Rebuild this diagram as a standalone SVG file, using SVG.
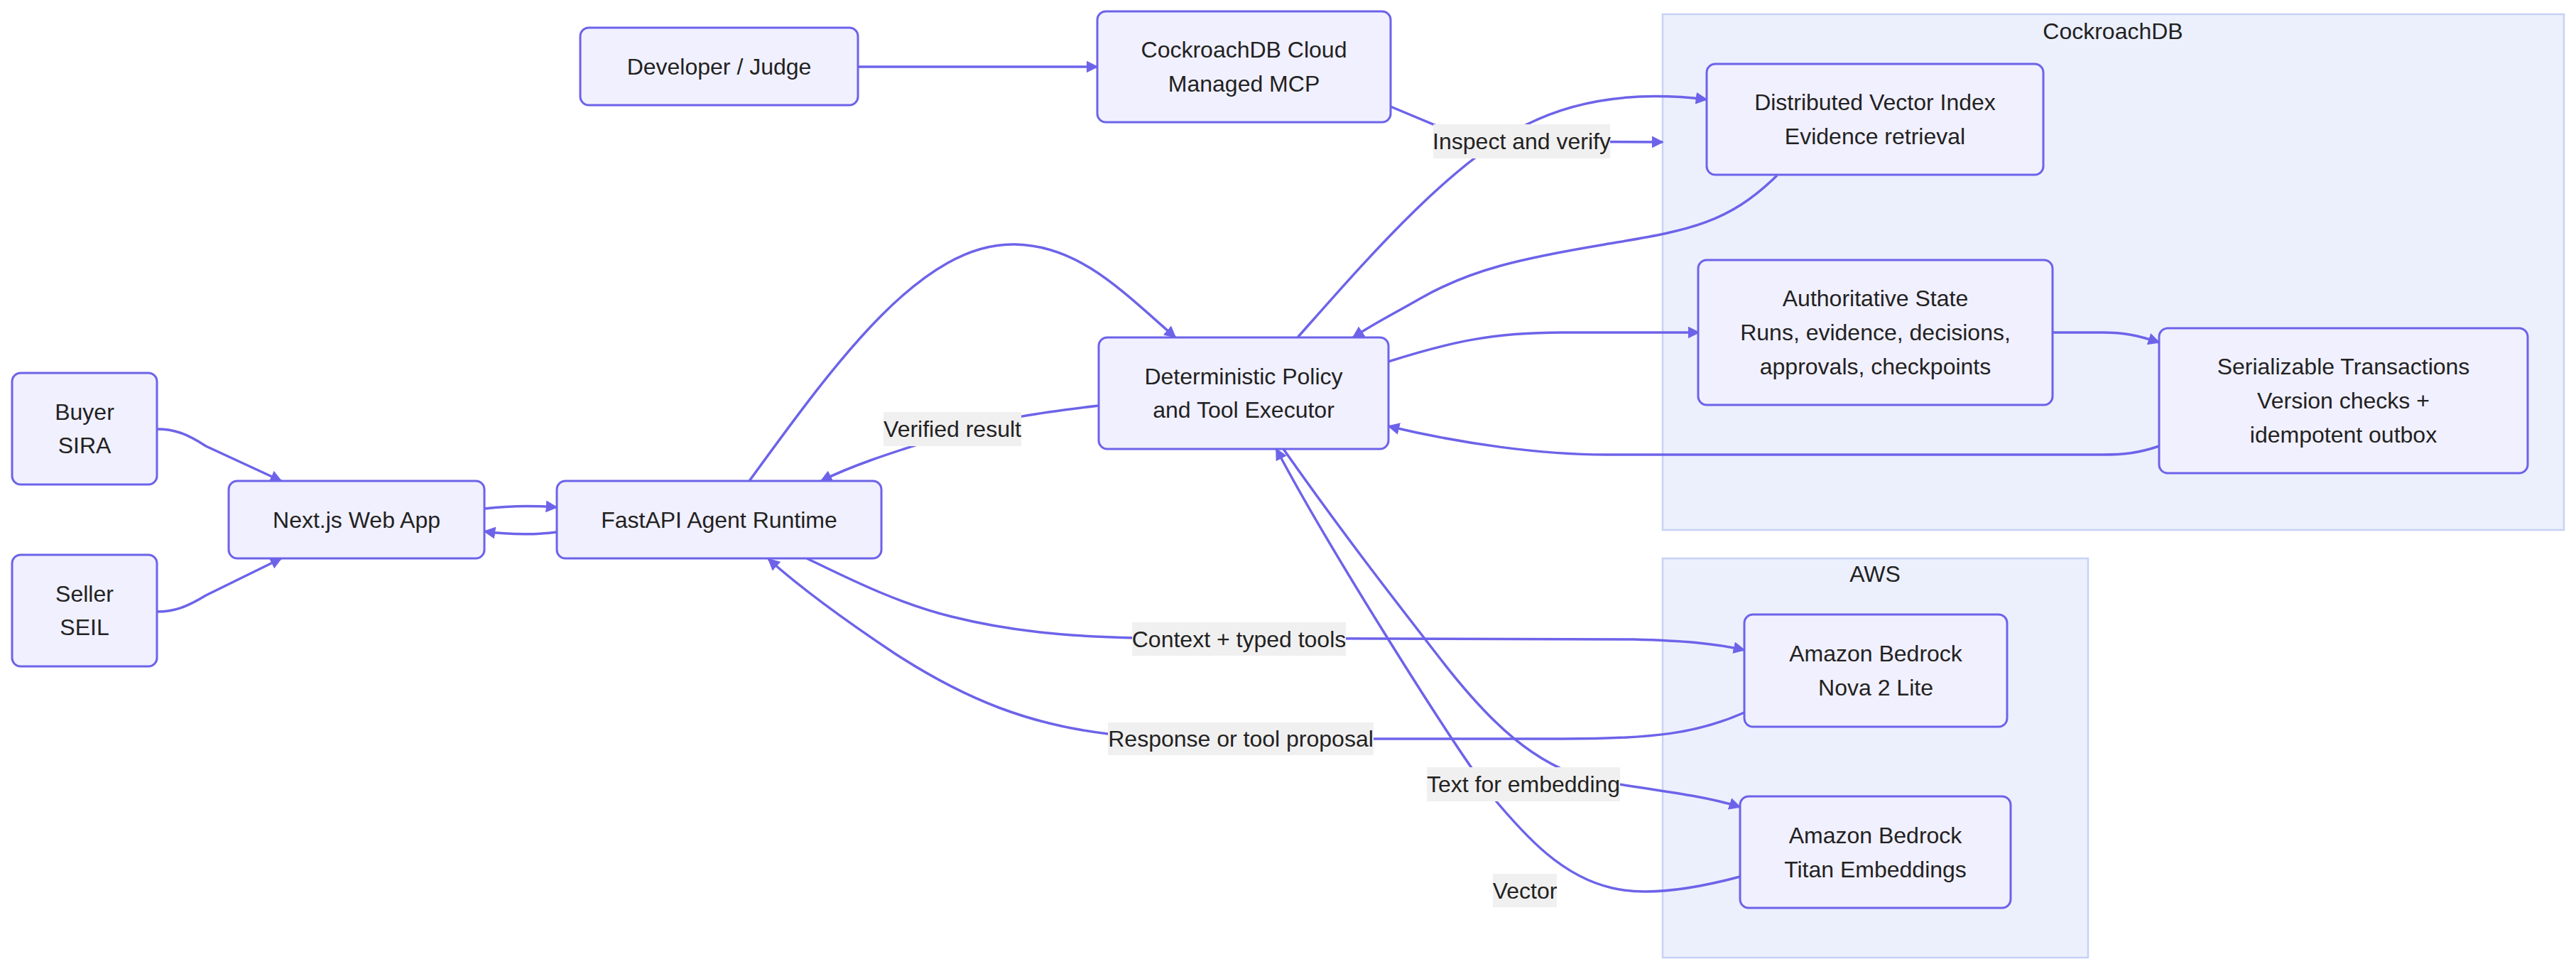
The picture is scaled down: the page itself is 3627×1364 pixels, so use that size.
<svg xmlns="http://www.w3.org/2000/svg" width="3627" height="1364" viewBox="0 0 3627 1364">
<style>
.cl{fill:#ECF0FD;stroke:#C7D2F5;stroke-width:2.5}
.nd rect{fill:#F1F0FF;stroke:#6D63E9;stroke-width:3}
text{font-family:"Liberation Sans",Arial,sans-serif;font-size:32px;fill:#222;text-anchor:middle;dominant-baseline:central}
.ed path{fill:none;stroke:#6D63E9;stroke-width:3.5}
.lb rect{fill:#F1F0F0}
</style>
<defs>
<marker id="ah" viewBox="0 0 10 10" refX="9" refY="5" markerWidth="17" markerHeight="17" markerUnits="userSpaceOnUse" orient="auto">
<path d="M0,0 L10,5 L0,10 z" fill="#6D63E9"/>
</marker>
</defs>
<rect width="3627" height="1364" fill="#fff"/>
<g id="cluster-cockroachdb">
<rect class="cl" x="2341" y="20" width="1269" height="726"/>
<text x="2975" y="44">CockroachDB</text>
</g>
<g id="cluster-aws">
<rect class="cl" x="2341" y="786" width="599" height="562"/>
<text x="2640" y="808">AWS</text>
</g>
<g class="ed" id="connectors">
<path marker-end="url(#ah)" d="M1208,94 L1545,94"/>
<path marker-end="url(#ah)" d="M1958,150 L2030,180 C2070,195 2100,199 2142,199 L2341,200"/>
<path marker-end="url(#ah)" d="M221,604 C245,604 262,610 290,628 L396,677"/>
<path marker-end="url(#ah)" d="M221,861 C245,861 262,855 290,838 L396,786"/>
<path marker-end="url(#ah)" d="M682,716 Q730,710 784,714"/>
<path marker-end="url(#ah)" d="M784,749 Q735,755 682,748"/>
<path marker-end="url(#ah)" d="M1055,677 C1180,505 1300,340 1430,344 C1520,346 1580,410 1655,475"/>
<path marker-end="url(#ah)" d="M1547,571 C1470,580 1400,590 1341,610 C1280,630 1210,650 1156,677"/>
<path marker-end="url(#ah)" d="M1827,475 C1920,370 2040,230 2150,175 C2230,135 2320,130 2403,140"/>
<path marker-end="url(#ah)" d="M2502,247 C2430,318 2370,325 2260,344 C2140,364 2070,380 2000,420 C1960,443 1935,455 1905,475"/>
<path marker-end="url(#ah)" d="M1955,509 C2040,482 2100,468 2200,468 L2392,468"/>
<path marker-end="url(#ah)" d="M2890,468 L2960,468 C2990,468 3010,472 3040,482"/>
<path marker-end="url(#ah)" d="M3040,628 C3010,638 2990,640 2960,640 L2262,640 C2170,640 2060,625 1955,600"/>
<path marker-end="url(#ah)" d="M1136,786 C1190,812 1260,848 1340,868 C1420,888 1500,896 1600,898 L2300,900 C2370,902 2410,905 2456,915"/>
<path marker-end="url(#ah)" d="M2456,1003 C2390,1032 2330,1040 2200,1040 L1700,1040 C1640,1040 1600,1038 1560,1033 C1450,1020 1360,985 1260,920 C1200,880 1130,830 1082,787"/>
<path marker-end="url(#ah)" d="M1807,632 C1890,750 1960,840 2030,930 C2100,1020 2160,1075 2240,1098 C2330,1112 2400,1120 2450,1136"/>
<path marker-end="url(#ah)" d="M2450,1234 C2390,1250 2320,1262 2270,1250 C2200,1234 2150,1180 2100,1120 C2040,1040 1870,770 1797,632"/>
</g>
<g class="lb" id="edge-labels">
<g id="lbl-inspect"><rect x="2018" y="175" width="249" height="48"/><text x="2142.5" y="199">Inspect and verify</text></g>
<g id="lbl-verified"><rect x="1244" y="580" width="194" height="48"/><text x="1341" y="604">Verified result</text></g>
<g id="lbl-context"><rect x="1594" y="876" width="301" height="47"/><text x="1744.5" y="899.5">Context + typed tools</text></g>
<g id="lbl-response"><rect x="1560" y="1017" width="374" height="46"/><text x="1747" y="1040">Response or tool proposal</text></g>
<g id="lbl-text"><rect x="2009" y="1080" width="272" height="48"/><text x="2145" y="1104">Text for embedding</text></g>
<g id="lbl-vector"><rect x="2102" y="1230" width="90" height="47"/><text x="2147" y="1253.5">Vector</text></g>
</g>
<g class="nd" id="developer"><rect x="817" y="39" width="391" height="109" rx="12"/><text x="1012.5" y="94">Developer / Judge</text></g>
<g class="nd" id="mcp"><rect x="1545" y="16" width="413" height="156" rx="12"/><text x="1751.5" y="70">CockroachDB Cloud</text><text x="1751.5" y="118">Managed MCP</text></g>
<g class="nd" id="buyer"><rect x="17" y="525" width="204" height="157" rx="12"/><text x="119" y="580">Buyer</text><text x="119" y="627">SIRA</text></g>
<g class="nd" id="seller"><rect x="17" y="781" width="204" height="157" rx="12"/><text x="119" y="836">Seller</text><text x="119" y="883">SEIL</text></g>
<g class="nd" id="nextjs"><rect x="322" y="677" width="360" height="109" rx="12"/><text x="502" y="731.5">Next.js Web App</text></g>
<g class="nd" id="fastapi"><rect x="784" y="677" width="457" height="109" rx="12"/><text x="1012.5" y="731.5">FastAPI Agent Runtime</text></g>
<g class="nd" id="executor"><rect x="1547" y="475" width="408" height="157" rx="12"/><text x="1751" y="530">Deterministic Policy</text><text x="1751" y="577">and Tool Executor</text></g>
<g class="nd" id="vector-index"><rect x="2403" y="90" width="474" height="156" rx="12"/><text x="2640" y="144">Distributed Vector Index</text><text x="2640" y="192">Evidence retrieval</text></g>
<g class="nd" id="state"><rect x="2391" y="366" width="499" height="204" rx="12"/><text x="2640.5" y="420">Authoritative State</text><text x="2640.5" y="468">Runs, evidence, decisions,</text><text x="2640.5" y="516">approvals, checkpoints</text></g>
<g class="nd" id="serializable"><rect x="3040" y="462" width="519" height="204" rx="12"/><text x="3299.5" y="516">Serializable Transactions</text><text x="3299.5" y="564">Version checks +</text><text x="3299.5" y="612">idempotent outbox</text></g>
<g class="nd" id="nova"><rect x="2456" y="865" width="370" height="158" rx="12"/><text x="2641" y="920">Amazon Bedrock</text><text x="2641" y="968">Nova 2 Lite</text></g>
<g class="nd" id="titan"><rect x="2450" y="1121" width="381" height="157" rx="12"/><text x="2640.5" y="1176">Amazon Bedrock</text><text x="2640.5" y="1224">Titan Embeddings</text></g>
</svg>
